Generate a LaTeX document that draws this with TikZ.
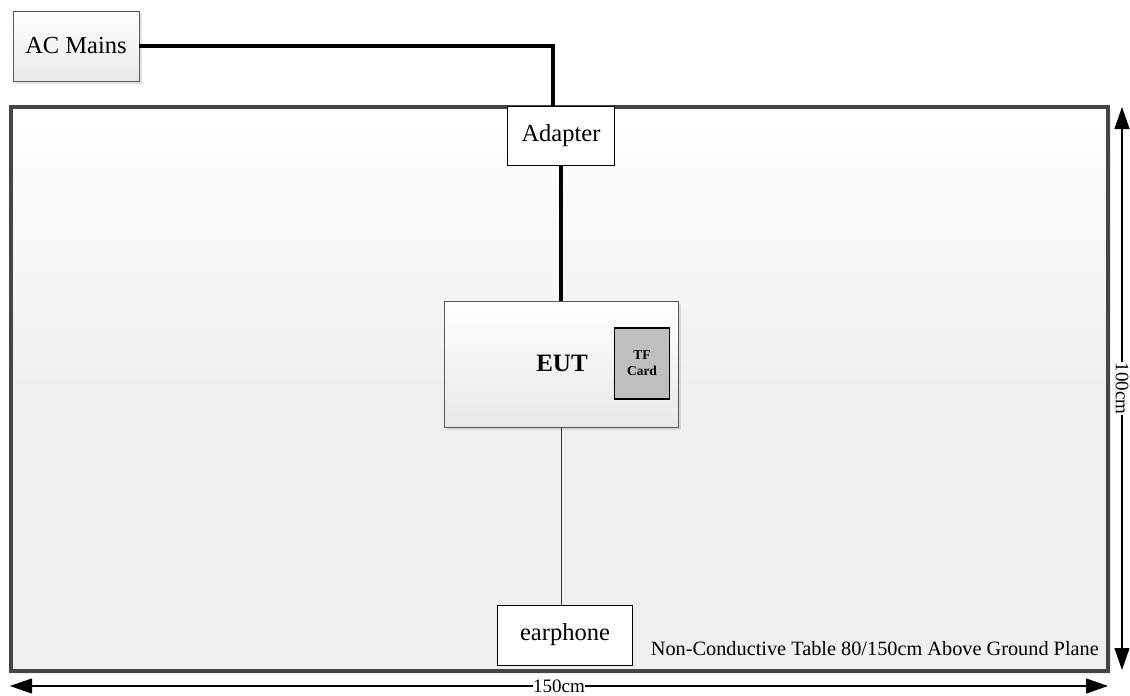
\documentclass[tikz,border=0pt]{standalone}
\usepackage{fontspec}
\setmainfont{Liberation Serif}
\usetikzlibrary{arrows.meta,shadows}
\definecolor{tblgray}{HTML}{EFEFEF}
\definecolor{tblborder}{HTML}{454545}
\definecolor{cardgray}{HTML}{BFBFBF}
\pgfdeclareverticalshading{tableshade}{100bp}{color(0bp)=(tblgray); color(25bp)=(tblgray); color(50bp)=(tblgray); color(75bp)=(white); color(100bp)=(white)}
\tikzset{
  boxshadow/.style={drop shadow={shadow xshift=3pt,shadow yshift=-3pt,opacity=0.22}},
  plainbox/.style={draw=black,line width=1pt,fill=white,rectangle,inner sep=0pt,font=\fontsize{24.5}{28}\selectfont},
  gradbox/.style={draw=black!65,line width=0.9pt,rectangle,inner sep=0pt,top color=white,bottom color=black!9,boxshadow},
  power/.style={line width=3.2pt,draw=black},
  signal/.style={line width=0.8pt,draw=black!80},
  dimline/.style={line width=1.1pt,{Triangle[length=22pt,width=15pt]}-{Triangle[length=22pt,width=15pt]}},
  dimlabel/.style={fill=white,inner sep=0.5pt,font=\fontsize{19}{22}\selectfont}
}
\begin{document}
\begin{tikzpicture}[x=1pt,y=-1pt]
\useasboundingbox (0,0) rectangle (1130,696);
% table
\node[rectangle,draw=tblborder,line width=3.5pt,shading=tableshade,minimum width=1097pt,minimum height=564pt,inner sep=0pt,
  drop shadow={shadow xshift=3pt,shadow yshift=-3pt,opacity=0.15}] (table) at (559.5,389) {};
\node[anchor=base east,font=\fontsize{20.3}{24}\selectfont,inner sep=0pt] (tlabel) at (1099,655) {Non-Conductive Table 80/150cm Above Ground Plane};
% boxes
\node[gradbox,minimum width=126pt,minimum height=70pt,font=\fontsize{24.5}{28}\selectfont] (ac) at (76,46) {AC Mains};
\node[plainbox,minimum width=107pt,minimum height=59pt] (adapter) at (561,135.5) {Adapter};
\node[gradbox,minimum width=234pt,minimum height=126pt] (eut) at (561,364) {};
\node[font=\bfseries\fontsize{25}{28}\selectfont,inner sep=0pt] (euttext) at (562,363) {EUT};
\node[rectangle,draw=black,line width=1.5pt,fill=cardgray,minimum width=55pt,minimum height=71pt,inner sep=0pt,
  font=\bfseries\fontsize{13.5}{16}\selectfont,align=center] (tf) at (642,363.5) {TF\\Card};
\node[plainbox,minimum width=135pt,minimum height=60pt] (ear) at (565,635) {earphone};
% connectors
\draw[power] (ac.east) -| ([xshift=-8pt]adapter.north);
\draw[power] (adapter.south) -- (eut.north);
\draw[signal] (eut.south) -- (eut.south |- ear.north);
% dimensions
\coordinate (h1) at (10,686);
\coordinate (h2) at (1108,686);
\coordinate (v1) at (1122,107);
\coordinate (v2) at (1122,670);
\draw[dimline] (h1) -- node[dimlabel] (hlab) {150cm} (h2);
\draw[dimline] (v1) -- node[dimlabel,rotate=-90] (vlab) {100cm} (v2);
\end{tikzpicture}
\end{document}
